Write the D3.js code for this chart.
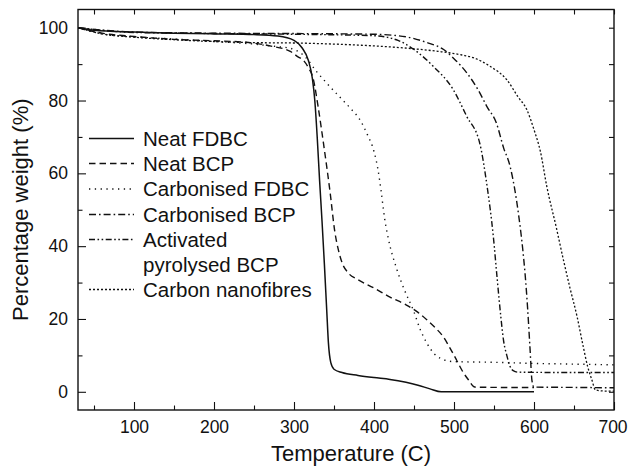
<!DOCTYPE html>
<html>
<head>
<meta charset="utf-8">
<script src="https://cdn.jsdelivr.net/npm/d3@7"></script>
<style>
  body { margin: 0; background: #fff; }
  text { font-family: "Liberation Sans", Arial, Helvetica, sans-serif; fill: #111; }
</style>
</head>
<body>
<script>
// TGA curves, [temperature (C), weight (%)]
var neatFdbc = [[30,100],[50,99.3],[100,98.8],[150,98.5],[200,98.3],[250,98.1],[280,97.7],[300,96.5],[310,94.5],[318,91],[323,86],[326,80],[329,70],[332,58],[335,47],[338,35],[341,22],[343,13.5],[346,8],[350,6.2],[360,5.3],[380,4.5],[400,3.9],[420,3.4],[440,2.6],[455,1.8],[470,0.8],[484,0],[600,0]];
var neatBcp = [[30,100],[60,98.5],[100,97.6],[150,96.8],[200,96.4],[240,96],[270,95],[296,93.4],[305,92],[312,91],[318,89],[324,86],[330,78.5],[337,68],[345,55],[351,44],[356,38.5],[360,35.5],[368,32.6],[380,30.8],[400,28.5],[420,26],[440,23.9],[455,21.8],[466,19.8],[477,17.5],[487,15],[495,12],[503,8.8],[511,5.5],[518,3.3],[526,1.3],[560,1.2],[600,1.2]];
var carbFdbc = [[30,100],[60,98.3],[100,97.5],[150,96.9],[200,96.2],[250,95.5],[275,94.9],[296,94.3],[314,92],[328,88],[340,85],[357,81],[370,78],[383,74.5],[392,70.5],[400,66],[405,61],[409,55],[413,48],[418,42],[428,34],[438,28],[449,22.5],[458,17],[466,13.4],[475,10.5],[483,9.2],[499,8.3],[550,8.1],[600,7.8],[650,7.6],[700,7.4]];
var carbBcp = [[30,100],[100,98.8],[200,98.5],[300,98.4],[400,98.2],[440,97.5],[465,96],[487,94],[500,91.5],[516,87.6],[530,83],[541,78.4],[553,73.8],[562,67],[570,62],[581,48.2],[586,39],[589,32],[592,23],[595,12],[597.5,3],[600,1.3],[650,1.2],[700,1.1]];
var actBcp = [[30,100],[100,98.7],[200,98.4],[300,98.2],[400,97.8],[430,96.5],[450,94],[474,89.4],[499,83],[516,75.6],[532.5,68],[541,57],[549,43],[554,31],[558.5,20.7],[562,14],[566,10],[570,7],[574,5.8],[580,5.4],[640,5.3],[700,5.3]];
var nanofibres = [[30,100],[60,98.3],[100,97.4],[150,96.7],[200,96.2],[250,95.9],[300,95.8],[350,95.5],[400,95],[450,94.2],[480,93.5],[510,92.5],[525,91.7],[545,89.4],[566,85.7],[580,81],[591,77.5],[600,72],[608,66],[616,56.4],[628,45],[637,36],[645,28.5],[654,20.5],[661,13],[667,7],[672,3.5],[677,0.5],[690,0.2],[700,0.2]];

var seriesNames = ["Neat FDBC", "Neat BCP", "Carbonised FDBC", "Carbonised BCP", "Activated pyrolysed BCP", "Carbon nanofibres"];
var seriesData = [neatFdbc, neatBcp, carbFdbc, carbBcp, actBcp, nanofibres];
var dashes = [null, "6.5,4", "1.3,4.5", "7,3,1.6,3", "6,2.5,1.6,2.5,1.6,2.5", "2,2"];
var widths = [1.5, 1.4, 1.4, 1.4, 1.4, 1.3];

var xMajor = [100, 200, 300, 400, 500, 600, 700];
var xMinor = [50, 150, 250, 350, 450, 550, 650];
var yMajor = [0, 20, 40, 60, 80, 100];
var yMinor = [10, 30, 50, 70, 90];

var w = 628, h = 471;
var L = 78, R = 614, T = 9.5, B = 410;

var svg = d3.select('body').append('svg')
  .attr('width', w)
  .attr('height', h);

var x = d3.scaleLinear().domain([30, 700]).range([L, R]);
var y = d3.scaleLinear().domain([-5, 105]).range([B, T]);

svg.append('clipPath').attr('id', 'clip')
  .append('rect').attr('x', L).attr('y', T).attr('width', R - L).attr('height', B - T);

// axes (ticks inward)
function styleAxis(g) {
  g.select('.domain').remove();
  g.selectAll('line').attr('stroke', '#111').attr('stroke-width', 1.1);
  g.selectAll('text').style('font-size', '17.5px').attr('fill', '#111');
}
svg.append('g').attr('transform', 'translate(0,' + B + ')')
  .call(d3.axisBottom(x).tickValues(xMajor).tickSize(-8).tickPadding(11)).call(styleAxis)
  .selectAll('text').filter(function(d) { return d === 700; }).attr('dx', '-1.5');
svg.append('g').attr('transform', 'translate(0,' + B + ')')
  .call(d3.axisBottom(x).tickValues(xMinor).tickSize(-4.5).tickFormat('')).call(styleAxis);
svg.append('g').attr('transform', 'translate(0,' + T + ')')
  .call(d3.axisTop(x).tickValues(xMajor.concat(xMinor)).tickSize(-5).tickFormat('')).call(styleAxis);
svg.append('g').attr('transform', 'translate(' + L + ',0)')
  .call(d3.axisLeft(y).tickValues(yMajor).tickSize(-8).tickPadding(10)).call(styleAxis);
svg.append('g').attr('transform', 'translate(' + L + ',0)')
  .call(d3.axisLeft(y).tickValues(yMinor).tickSize(-4.5).tickFormat('')).call(styleAxis);
svg.append('g').attr('transform', 'translate(' + R + ',0)')
  .call(d3.axisRight(y).tickValues(yMajor.concat(yMinor)).tickSize(-5).tickFormat('')).call(styleAxis);

// frame
svg.append('rect')
  .attr('x', L).attr('y', T).attr('width', R - L).attr('height', B - T)
  .attr('fill', 'none').attr('stroke', '#111').attr('stroke-width', 1.4);

// curves
var line = d3.line()
  .x(function(d) { return x(d[0]); })
  .y(function(d) { return y(d[1]); })
  .curve(d3.curveMonotoneX);

svg.append('g').attr('clip-path', 'url(#clip)')
  .selectAll('path')
  .data(seriesData)
  .enter()
  .append('path')
  .attr('d', line)
  .attr('fill', 'none')
  .attr('stroke', '#111')
  .attr('stroke-width', function(d, i) { return widths[i]; })
  .attr('stroke-dasharray', function(d, i) { return dashes[i]; });

// legend
var legRows = [138.5, 163.5, 189, 214.5, 239.5, 289.5];
var leg = svg.append('g');
seriesNames.forEach(function(name, i) {
  leg.append('line')
    .attr('x1', 89).attr('x2', 134)
    .attr('y1', legRows[i]).attr('y2', legRows[i])
    .attr('stroke', '#111')
    .attr('stroke-width', widths[i])
    .attr('stroke-dasharray', dashes[i]);
  var t = leg.append('text')
    .attr('x', 143).attr('y', legRows[i])
    .attr('dy', '0.36em')
    .style('font-size', '20.5px');
  if (i === 4) {
    t.append('tspan').attr('x', 143).text('Activated');
    t.append('tspan').attr('x', 143).attr('dy', '1.22em').text('pyrolysed BCP');
  } else {
    t.text(name);
  }
});

// axis titles
svg.append('text')
  .attr('x', (L + R) / 2 + 5).attr('y', 461)
  .attr('text-anchor', 'middle')
  .style('font-size', '22px')
  .text('Temperature (C)');

svg.append('text')
  .attr('transform', 'translate(28,' + ((T + B) / 2) + ') rotate(-90)')
  .attr('text-anchor', 'middle')
  .style('font-size', '22px')
  .text('Percentage weight (%)');
</script>
</body>
</html>
